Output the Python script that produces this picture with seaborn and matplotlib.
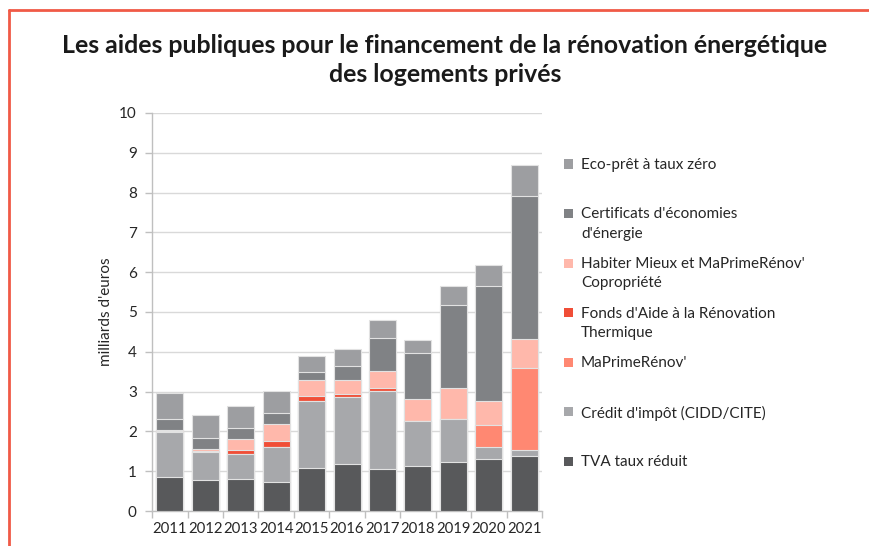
import numpy as np
import pandas as pd
import matplotlib.pyplot as plt
import matplotlib.patches as mpatches
import seaborn as sns

# données (milliards d'euros)
years = ["2011", "2012", "2013", "2014", "2015", "2016", "2017", "2018", "2019", "2020", "2021"]
tva = [0.86, 0.79, 0.81, 0.73, 1.07, 1.17, 1.06, 1.14, 1.24, 1.31, 1.39]
credit = [1.13, 0.68, 0.63, 0.87, 1.69, 1.70, 1.96, 1.13, 1.08, 0.30, 0.14]
mpr = [0, 0, 0, 0, 0, 0, 0, 0, 0, 0.56, 2.06]
fart = [0.02, 0.05, 0.09, 0.16, 0.13, 0.07, 0.08, 0, 0, 0, 0]
habiter = [0.03, 0.05, 0.29, 0.42, 0.40, 0.35, 0.42, 0.54, 0.76, 0.60, 0.73]
cee = [0.26, 0.27, 0.27, 0.28, 0.21, 0.36, 0.83, 1.15, 2.09, 2.88, 3.60]
eco = [0.67, 0.57, 0.54, 0.56, 0.39, 0.41, 0.45, 0.34, 0.48, 0.53, 0.77]

labels = ["TVA taux réduit", "Crédit d'impôt (CIDD/CITE)", "MaPrimeRénov'",
          "Fonds d'Aide à la Rénovation\nThermique",
          "Habiter Mieux et MaPrimeRénov'\nCopropriété",
          "Certificats d'économies\nd'énergie", "Eco-prêt à taux zéro"]
colors = ["#58595B", "#A7A8AB", "#FF8872", "#F04E37", "#FFB8AB", "#808285", "#9D9EA1"]
series = [tva, credit, mpr, fart, habiter, cee, eco]

df = pd.DataFrame(dict(zip(labels, series)), index=years)
cum = df.cumsum(axis=1)

sns.set_theme(style="white")
plt.rcParams["font.family"] = ["Lato", "DejaVu Sans"]

fig = plt.figure(figsize=(8.69, 5.46), dpi=100)
ax = fig.add_axes([0.175, 0.0641, 0.4487, 0.729])

# barres empilées : on dessine les cumuls du haut vers le bas
for lab, col in reversed(list(zip(labels, colors))):
    sns.barplot(x=years, y=cum[lab].values, color=col, width=0.76,
                edgecolor="#E2E2E2", linewidth=0.8, saturation=1, ax=ax, zorder=3)

ax.set_ylim(0, 10)
ax.set_xlim(-0.5, 10.5)
ax.set_yticks(range(0, 11))
ax.yaxis.grid(True, color="#D9D9D9", linewidth=1, zorder=0)
ax.set_axisbelow(True)
for s in ["top", "right"]:
    ax.spines[s].set_visible(False)
for s in ["left", "bottom"]:
    ax.spines[s].set_color("#BFBFBF")
    ax.spines[s].set_linewidth(1)
ax.tick_params(axis="y", length=5, color="#BFBFBF", width=1, pad=6,
               labelsize=11, labelcolor="#262626", left=True)
ax.set_xticks(np.arange(-0.5, 11, 1), minor=True)
ax.tick_params(axis="x", which="minor", length=5, color="#BFBFBF", width=1, bottom=True)
ax.tick_params(axis="x", which="major", length=0, pad=8, labelsize=10.7, labelcolor="#262626")
ax.set_xlabel("")
ax.set_ylabel("milliards d'euros", fontsize=11, color="#262626", labelpad=4)

# légende
H, W = 546, 869
for i, (lab, col) in enumerate(zip(reversed(labels), reversed(colors))):
    yc = 164 + 49.5 * i
    fig.patches.append(mpatches.Rectangle((564 / W, 1 - (yc + 4.5) / H), 9 / W, 9 / H,
                                          transform=fig.transFigure, facecolor=col,
                                          edgecolor="none"))
    fig.text(581 / W, 1 - (yc - 6) / H, lab, fontsize=11, color="#262626",
             va="top", ha="left", linespacing=1.5)

# titre
fig.text(445 / W, 1 - 60 / H, "Les aides publiques pour le financement de la rénovation énergétique\ndes logements privés",
         ha="center", va="center", fontsize=17.9, fontweight="bold", color="#1a1a1a",
         linespacing=1.33)

# cadre rouge
fig.add_artist(plt.Line2D([9 / W, 1], [1 - 10 / H, 1 - 10 / H], transform=fig.transFigure,
                          color="#F05A46", linewidth=2))
fig.add_artist(plt.Line2D([9 / W, 9 / W], [0, 1 - 10 / H], transform=fig.transFigure,
                          color="#F05A46", linewidth=2))

fig.savefig("out.png", dpi=100)
